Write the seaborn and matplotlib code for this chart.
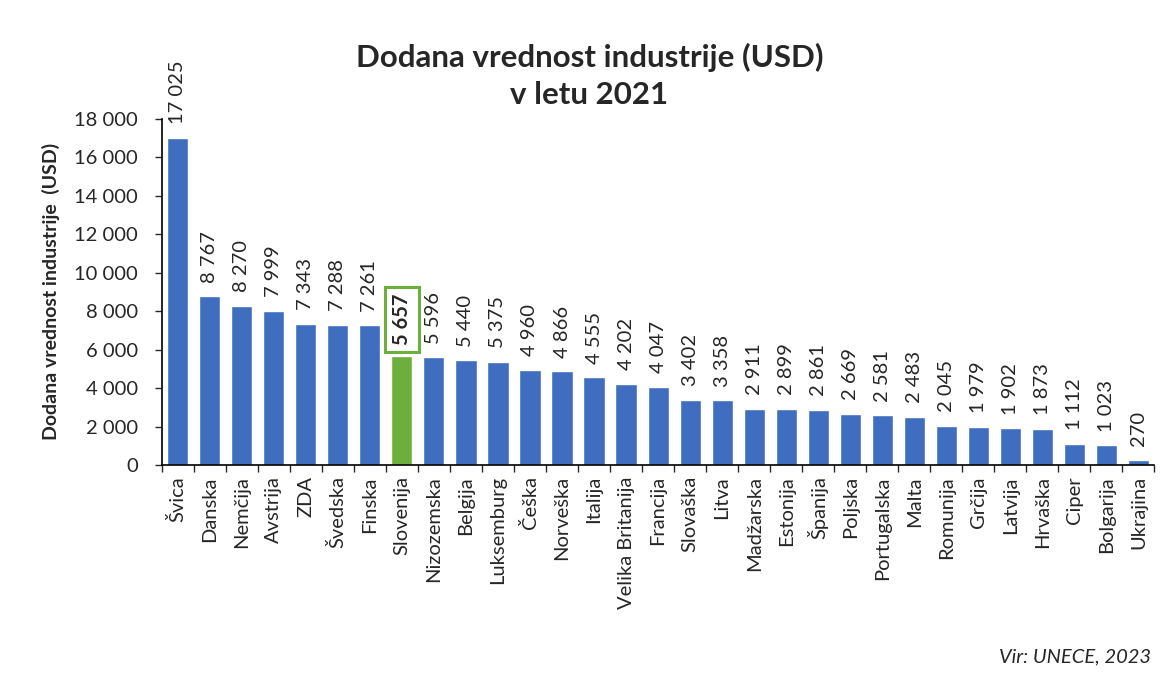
import pandas as pd
import matplotlib.pyplot as plt
import seaborn as sns
from matplotlib.ticker import FuncFormatter, FixedLocator

drzave = ["Švica", "Danska", "Nemčija", "Avstrija", "ZDA", "Švedska", "Finska",
          "Slovenija", "Nizozemska", "Belgija", "Luksemburg", "Češka", "Norveška",
          "Italija", "Velika Britanija", "Francija", "Slovaška", "Litva", "Madžarska",
          "Estonija", "Španija", "Poljska", "Portugalska", "Malta", "Romunija",
          "Grčija", "Latvija", "Hrvaška", "Ciper", "Bolgarija", "Ukrajina"]
vrednosti = [17025, 8767, 8270, 7999, 7343, 7288, 7261, 5657, 5596, 5440, 5375,
             4960, 4866, 4555, 4202, 4047, 3402, 3358, 2911, 2899, 2861, 2669,
             2581, 2483, 2045, 1979, 1902, 1873, 1112, 1023, 270]
poudarek = "Slovenija"

df = pd.DataFrame({"drzava": drzave, "vrednost": vrednosti})
df["skupina"] = ["si" if d == poudarek else "ostalo" for d in drzave]

sns.set_style("white")
plt.rcParams["font.family"] = ["Lato", "DejaVu Sans"]

fig = plt.figure(figsize=(11.72, 6.75), dpi=100)
ax = fig.add_axes([0.138, 0.311, 0.847, 0.513])

sns.barplot(data=df, x="drzava", y="vrednost", hue="skupina",
            palette={"ostalo": "#3F6DC0", "si": "#6DAF3C"}, saturation=1,
            dodge=False, legend=False, width=0.66, ax=ax)

fmt = lambda v: f"{int(v):,}".replace(",", " ")

for i, (d, v) in enumerate(zip(drzave, vrednosti)):
    if d == poudarek:
        ax.annotate(fmt(v), (i, v), xytext=(0, 8), textcoords="offset points",
                    rotation=90, ha="center", va="bottom", fontsize=14.5,
                    fontweight="bold",
                    bbox=dict(boxstyle="square,pad=0.35", fc="white", ec="#6DAF3C", lw=2.2))
    else:
        ax.annotate(fmt(v), (i, v), xytext=(0, 10), textcoords="offset points",
                    rotation=90, ha="center", va="bottom", fontsize=14.5)

ax.set_ylim(0, 18000)
ax.set_xlim(-0.5, len(drzave) - 0.5)
ax.set_yticks(range(0, 18001, 2000))
ax.yaxis.set_major_formatter(FuncFormatter(lambda v, p: fmt(v)))
ax.tick_params(axis="y", labelsize=14.5, length=5, direction="out", left=True,
               width=1, pad=12)

# oznake drzav na sredini, kljukice med stolpci
ax.set_xticks(range(len(drzave)))
ax.set_xticklabels(drzave, rotation=90, fontsize=14.5)
ax.tick_params(axis="x", length=0, pad=8)
ax.xaxis.set_minor_locator(FixedLocator([i - 0.5 for i in range(len(drzave) + 1)]))
ax.tick_params(axis="x", which="minor", length=5, direction="out", bottom=True, width=1)

for s in ["top", "right"]:
    ax.spines[s].set_visible(False)
for s in ["left", "bottom"]:
    ax.spines[s].set_color("black")
    ax.spines[s].set_linewidth(1.2)

ax.set_xlabel("")
ax.set_ylabel("Dodana vrednost industrije  (USD)", fontsize=14, fontweight="bold",
              labelpad=10)

fig.text(0.503, 0.888, "Dodana vrednost industrije (USD)\nv letu 2021", ha="center",
         va="center", fontsize=22.5, fontweight="bold", linespacing=1.4)
fig.text(0.982, 0.027, "Vir: UNECE, 2023", ha="right", va="center",
         fontsize=14.5, style="italic")

fig.savefig("out.png", dpi=100, facecolor="white")
